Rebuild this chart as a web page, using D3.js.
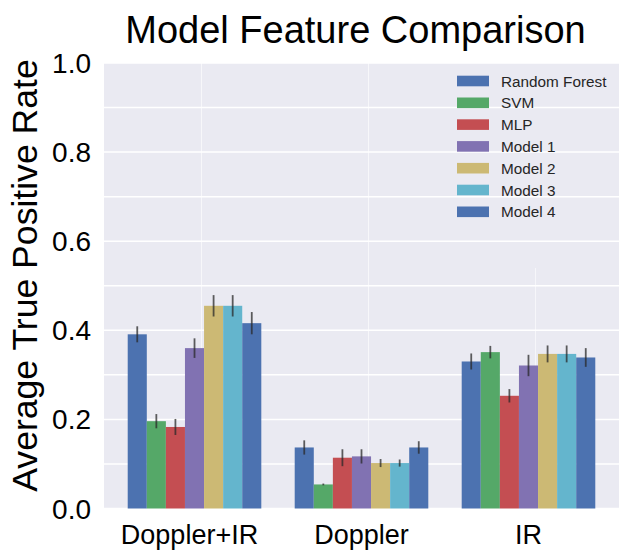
<!DOCTYPE html>
<html lang="en">
<head>
<meta charset="UTF-8">
<title>Model Feature Comparison</title>
<script src="https://cdn.jsdelivr.net/npm/d3@7"></script>
<style>
    body { margin: 0; background: #fff; }
    svg { position: absolute; left: 0; top: 0; font-family: "Liberation Sans", Arial, Helvetica, sans-serif; }
</style>
</head>
<body>
<svg id="chart" width="636" height="558"></svg>
<script>
    // data
    var features = ["Doppler+IR", "Doppler", "IR"];
    var models = ["Random Forest", "SVM", "MLP", "Model 1", "Model 2", "Model 3", "Model 4"];
    var colors = ["#4C72B0", "#55A868", "#C44E52", "#8172B2", "#CCB974", "#64B5CD", "#4C72B0"];

    // one row per feature set, one value per model
    var tpr = [
        [0.391, 0.196, 0.183, 0.360, 0.455, 0.455, 0.416],
        [0.137, 0.054, 0.114, 0.117, 0.102, 0.102, 0.137],
        [0.330, 0.351, 0.253, 0.321, 0.347, 0.347, 0.339]
    ];
    var tprErr = [
        [0.018, 0.016, 0.018, 0.022, 0.024, 0.024, 0.025],
        [0.016, 0.002, 0.019, 0.016, 0.009, 0.008, 0.014],
        [0.018, 0.014, 0.015, 0.024, 0.019, 0.019, 0.021]
    ];
    var yTicks = [0.0, 0.2, 0.4, 0.6, 0.8, 1.0];
    var yGrid = d3.range(0, 1.01, 0.1);

    // (window.top is read-only, so plot edges get their own names)
    var plotL = 104, plotR = 619, plotT = 63, plotB = 508.5;
    var svg = d3.select("#chart");

    var x0 = d3.scaleBand().domain(features).range([plotL, plotR])
                .paddingInner(0.2).paddingOuter(0.142);
    var x1 = d3.scaleBand().domain(models).range([0, x0.bandwidth()]);
    var y = d3.scaleLinear().domain([0, 1]).range([plotB, plotT]);

    // axes background + grid
    svg.append("rect")
        .attr("x", plotL).attr("y", plotT)
        .attr("width", plotR - plotL).attr("height", plotB - plotT)
        .attr("fill", "#EAEAF2");

    svg.append("g").selectAll("line").data(yGrid).enter().append("line")
        .attr("x1", plotL).attr("x2", plotR)
        .attr("y1", function(d) { return y(d); })
        .attr("y2", function(d) { return y(d); })
        .attr("stroke", "#fff").attr("stroke-width", 1.5);

    // the vertical grid of the last group is hidden behind the legend box
    var vTop = [1, 1, 0.54];
    svg.append("g").selectAll("line").data(features).enter().append("line")
        .attr("x1", function(d) { return x0(d) + x0.bandwidth() / 2 + 7; })
        .attr("x2", function(d) { return x0(d) + x0.bandwidth() / 2 + 7; })
        .attr("y1", function(d, i) { return y(vTop[i]); })
        .attr("y2", plotB)
        .attr("stroke", "#fff").attr("stroke-opacity", 0.6).attr("stroke-width", 1);

    // bars
    var groups = svg.append("g").selectAll("g").data(features).enter().append("g")
        .attr("transform", function(d) { return "translate(" + x0(d) + ",0)"; });

    groups.selectAll("rect")
        .data(function(d, i) { return models.map(function(m, j) { return {m: m, j: j, v: tpr[i][j], e: tprErr[i][j]}; }); })
        .enter().append("rect")
        .attr("x", function(d) { return x1(d.m); })
        .attr("y", function(d) { return y(d.v); })
        .attr("width", x1.bandwidth())
        .attr("height", function(d) { return y(0) - y(d.v); })
        .attr("fill", function(d) { return colors[d.j]; });

    // error bars
    groups.selectAll("line.err")
        .data(function(d, i) { return models.map(function(m, j) { return {m: m, v: tpr[i][j], e: tprErr[i][j]}; }); })
        .enter().append("line")
        .attr("class", "err")
        .attr("x1", function(d) { return x1(d.m) + x1.bandwidth() / 2; })
        .attr("x2", function(d) { return x1(d.m) + x1.bandwidth() / 2; })
        .attr("y1", function(d) { return y(d.v + d.e); })
        .attr("y2", function(d) { return y(d.v - d.e); })
        .attr("stroke", "#2a2a2a").attr("stroke-opacity", 0.75).attr("stroke-width", 1.8);

    // y ticks
    svg.append("g").selectAll("text").data(yTicks).enter().append("text")
        .attr("x", 91)
        .attr("y", function(d) { return y(d); })
        .attr("dy", "0.36em")
        .attr("text-anchor", "end")
        .attr("font-size", 28)
        .attr("fill", "#000")
        .text(function(d) { return d3.format(".1f")(d); });

    // x ticks (first label sits a bit left of its group in the original)
    var labelShift = [-5, 0, 0];
    svg.append("g").selectAll("text").data(features).enter().append("text")
        .attr("x", function(d, i) { return x0(d) + x0.bandwidth() / 2 + labelShift[i]; })
        .attr("y", 544)
        .attr("text-anchor", "middle")
        .attr("font-size", 27)
        .attr("fill", "#000")
        .text(function(d) { return d; });

    // axis label
    svg.append("text")
        .attr("transform", "translate(37,275.5) rotate(-90)")
        .attr("text-anchor", "middle")
        .attr("font-size", 35.6)
        .attr("fill", "#000")
        .text("Average True Positive Rate");

    // title
    svg.append("text")
        .attr("x", 355.5).attr("y", 43)
        .attr("text-anchor", "middle")
        .attr("font-size", 38)
        .attr("fill", "#000")
        .text("Model Feature Comparison");

    // legend
    var leg = svg.append("g").attr("transform", "translate(457,81)");
    var rows = leg.selectAll("g").data(models).enter().append("g")
        .attr("transform", function(d, i) { return "translate(0," + (i * 21.8) + ")"; });
    rows.append("rect")
        .attr("x", 0).attr("y", -5.3)
        .attr("width", 32).attr("height", 10.6)
        .attr("fill", function(d, i) { return colors[i]; });
    rows.append("text")
        .attr("x", 44).attr("y", 0)
        .attr("dy", "0.36em")
        .attr("font-size", 15.3)
        .attr("fill", "#262626")
        .text(function(d) { return d; });
</script>
</body>
</html>
